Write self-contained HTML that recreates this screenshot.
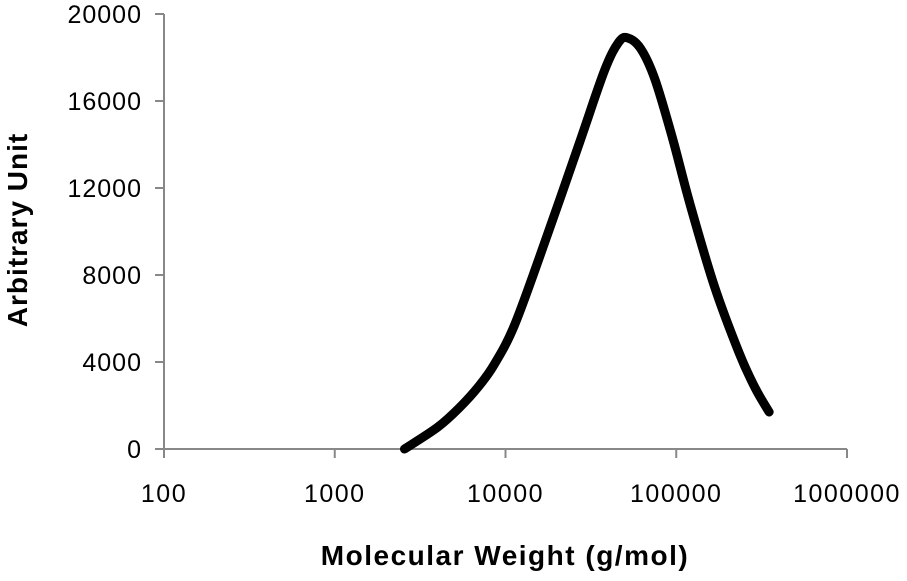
<!DOCTYPE html>
<html><head><meta charset="utf-8"><style>
body{margin:0;background:#fff;}
svg text{font-family:"Liberation Sans",sans-serif;fill:#000;}
</style></head><body>
<svg id="c" width="907" height="576"></svg>
<script>
const xTicks=[100,1000,10000,100000,1000000];
const xTickLabels=["100","1000","10000","100000","1000000"];
const yTicks=[0,4000,8000,12000,16000,20000];
const yTickLabels=["0","4000","8000","12000","16000","20000"];
const mw=[2560,4000,5370,7000,8610,11300,16800,26900,38000,46000,52000,62000,75000,95000,120000,167000,234000,290000,350000];
const values=[0,1000,1900,2900,3900,5700,9400,14000,17400,18700,18900,18400,17000,14300,11300,7500,4400,2800,1700];

const L=164,R=847,T=14,B=449;
const sx=v=>L+(Math.log10(v)-2)/4*(R-L);
const sy=v=>B-v/20000*(B-T);
const svg=document.getElementById('c');
const NS='http://www.w3.org/2000/svg';
function mk(t,a){const e=document.createElementNS(NS,t);for(const k in a)e.setAttribute(k,a[k]);svg.appendChild(e);return e;}
let e;
e=mk('line',{x1:L,y1:T,x2:L,y2:B,stroke:'#888','stroke-width':2});


e=mk('line',{x1:L,y1:B,x2:R,y2:B,stroke:'#888','stroke-width':2});


yTicks.forEach((v,i)=>{
 e=mk('line',{x1:L-9,y1:sy(v),x2:L,y2:sy(v),stroke:'#888','stroke-width':2});
 
 
 e=mk('text',{x:L-22,y:sy(v)+9,'text-anchor':'end','font-size':25,'letter-spacing':1});
 e.textContent=yTickLabels[i];
 
 
});
xTicks.forEach((v,i)=>{
 e=mk('line',{x1:sx(v),y1:B,x2:sx(v),y2:B+9,stroke:'#888','stroke-width':2});
 
 
 e=mk('text',{x:sx(v),y:B+53,'text-anchor':'middle','font-size':25,'letter-spacing':1.5});
 e.textContent=xTickLabels[i];
 
 
});
const pts=mw.map((m,i)=>[sx(m),sy(values[i])]);
let d='M'+pts[0][0]+','+pts[0][1];
for(let i=0;i<pts.length-1;i++){
 const p0=pts[Math.max(0,i-1)],p1=pts[i],p2=pts[i+1],p3=pts[Math.min(pts.length-1,i+2)];
 d+=' C'+(p1[0]+(p2[0]-p0[0])/6)+','+(p1[1]+(p2[1]-p0[1])/6)+' '+(p2[0]-(p3[0]-p1[0])/6)+','+(p2[1]-(p3[1]-p1[1])/6)+' '+p2[0]+','+p2[1];
}
e=mk('path',{d:d,fill:'none',stroke:'#000','stroke-width':9,'stroke-linecap':'round','stroke-linejoin':'round'});


e=mk('text',{x:505,y:565,'text-anchor':'middle','font-size':28,'font-weight':'bold','letter-spacing':1.5});
e.textContent='Molecular Weight (g/mol)';


e=mk('text',{x:0,y:0,'text-anchor':'middle','font-size':28,'font-weight':'bold','letter-spacing':1,transform:'translate(27,230) rotate(-90)'});
e.textContent='Arbitrary Unit';


</script>
</body></html>
